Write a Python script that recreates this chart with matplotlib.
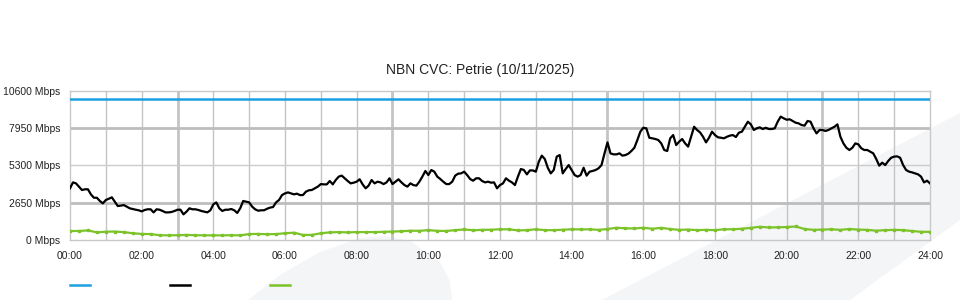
import numpy as np
import matplotlib.pyplot as plt
from matplotlib.lines import Line2D
from matplotlib.patches import Polygon

plt.rcParams['font.family'] = ['Liberation Sans', 'DejaVu Sans']

title = 'NBN CVC: Petrie (10/11/2025)'

# link capacity (Mbps)
capacity = 10000

# traffic, one value every 5 minutes from 00:00 to 24:00 (Mbps)
traffic = [
    3670, 4090, 4020, 3790, 3550, 3600, 3600, 3240, 3000, 3000, 2770, 2600,
    2840, 2930, 3030, 2720, 2410, 2440, 2480, 2370, 2250, 2200, 2150, 2110,
    2030, 2130, 2180, 2180, 1960, 2180, 2150, 2060, 1960, 1960, 1990, 2060,
    2150, 2150, 1820, 2010, 2250, 2180, 2180, 2130, 2060, 2010, 1960, 2110,
    2530, 2670, 2250, 2060, 2150, 2150, 2200, 2110, 1920, 2250, 2770, 2720,
    2670, 2370, 2180, 2080, 2110, 2110, 2220, 2300, 2340, 2670, 2840, 3190,
    3310, 3380, 3310, 3240, 3290, 3190, 3190, 3430, 3530, 3550, 3670, 3790,
    3970, 3950, 3950, 4190, 3950, 4260, 4500, 4570, 4380, 4190, 4020, 4070,
    4140, 4310, 3950, 3670, 3860, 4260, 4020, 4140, 4090, 3970, 4090, 4380,
    3970, 4140, 4310, 4090, 3900, 3790, 4020, 3900, 3860, 4140, 4500, 4900,
    4610, 4970, 4850, 4500, 4330, 4140, 3970, 3970, 4140, 4570, 4710, 4730,
    4850, 4610, 4330, 4210, 4380, 4380, 4190, 4090, 4140, 4070, 4090, 3670,
    3900, 4020, 4380, 4210, 4090, 3900, 4500, 5040, 4970, 4660, 4940, 4940,
    4850, 5560, 5990, 5750, 5130, 4730, 4970, 5920, 6030, 4730, 5040, 5320,
    4970, 4610, 4500, 4610, 5130, 4570, 4850, 4900, 4970, 5090, 5320, 6150,
    6930, 6150, 6080, 6080, 6150, 5990, 6030, 6130, 6320, 6550, 7100, 7690,
    7970, 7930, 7260, 7220, 7170, 7100, 6860, 6390, 6320, 7220, 7450, 6740,
    6980, 7170, 6860, 6630, 7330, 8040, 7810, 7640, 7330, 6930, 7260, 7690,
    7450, 7290, 7260, 7220, 7330, 7410, 7450, 7310, 7620, 7690, 8040, 8400,
    8210, 7810, 7930, 8000, 7880, 7970, 7880, 7880, 7930, 8400, 8760, 8640,
    8540, 8570, 8450, 8330, 8280, 8160, 8120, 8450, 8400, 7930, 7570, 7810,
    7810, 7740, 7810, 7930, 8040, 8210, 7330, 6860, 6550, 6390, 6550, 6860,
    6790, 6510, 6390, 6390, 6270, 6150, 5750, 5280, 5490, 5320, 5610, 5840,
    5920, 5940, 5840, 5320, 4970, 4850, 4800, 4730, 4660, 4500, 4090, 4210,
    4020,
]

# second series, one value every 15 minutes (Mbps)
upload = [
    640, 640, 680, 540, 590, 600, 560, 480, 430, 420, 340, 330,
    340, 360, 340, 330, 330, 330, 340, 330, 420, 430, 410, 420,
    480, 520, 360, 360, 480, 540, 560, 540, 560, 560, 560, 580,
    600, 620, 660, 650, 700, 650, 640, 700, 750, 690, 720, 730,
    760, 760, 680, 700, 760, 700, 700, 730, 760, 750, 760, 720,
    780, 870, 830, 820, 870, 800, 860, 780, 720, 740, 700, 720,
    700, 760, 760, 800, 860, 940, 890, 900, 920, 960, 780, 720,
    740, 760, 720, 780, 740, 720, 660, 700, 720, 700, 640, 580,
    580,
]

y_ticks = [0, 2650, 5300, 7950, 10600]
x_ticks = list(range(0, 25, 2))
x_labels = [f'{h:02d}:00' for h in x_ticks]

t_traffic = np.arange(len(traffic)) * 5 / 60
t_upload = np.arange(len(upload)) * 15 / 60

fig = plt.figure(figsize=(9.6, 3), dpi=100)
fig.patch.set_facecolor('white')

# faint background swooshes
W, H = 960, 300
fin = [(248, 300), (280, 275), (320, 252), (360, 238), (385, 236), (410, 241),
       (440, 262), (450, 281), (452, 300)]
band = [(602, 300), (960, 113), (960, 220), (850, 300)]
for shape in (fin, band):
    pts = [(x / W, 1 - y / H) for x, y in shape]
    fig.add_artist(Polygon(pts, closed=True, transform=fig.transFigure,
                           facecolor='#f4f5f7', edgecolor='none', zorder=0))

ax = fig.add_axes([70 / W, 0.2, 860 / W, (240 - 90.7) / H])
ax.set_facecolor('none')
ax.set_xlim(0, 24)
ax.set_ylim(0, 10600)

# grid
for h in range(1, 24):
    ax.axvline(h, color='#c4c4c4', lw=2 if h % 6 == 3 else 1, zorder=1)
for v in y_ticks[1:-1]:
    ax.axhline(v, color='#bdbdbd' if v != 5300 else '#cccccc',
               lw=2 if v != 5300 else 1, zorder=1)
for s in ax.spines.values():
    s.set_color('#c8c8c8')
    s.set_linewidth(1)

ax.axhline(capacity, color='#1ba1e2', lw=1.8, zorder=3)
ax.plot(t_traffic, traffic, color='black', lw=1.6, zorder=4)
ax.plot(t_upload, upload, color='#7cc229', lw=1.6, marker='s', markersize=1.6, zorder=3)

ax.set_xticks(x_ticks)
ax.set_xticklabels(x_labels)
ax.set_yticks(y_ticks)
ax.set_yticklabels([f'{v} Mbps' for v in y_ticks])
ax.tick_params(length=0, labelsize=7.5, colors='#222222')
ax.tick_params(axis='y', pad=7)
ax.tick_params(axis='x', pad=8)

fig.text(0.5, 1 - 70 / H, title, ha='center', va='center', fontsize=10, color='#222222')

# legend swatches (no labels)
for x0, c in [(70, '#1ba1e2'), (170, 'black'), (270, '#7cc229')]:
    fig.add_artist(Line2D([x0 / W, (x0 + 20) / W], [1 - 285 / H] * 2,
                          transform=fig.transFigure, color=c, lw=1.8))

fig.savefig('out.png', dpi=100)
